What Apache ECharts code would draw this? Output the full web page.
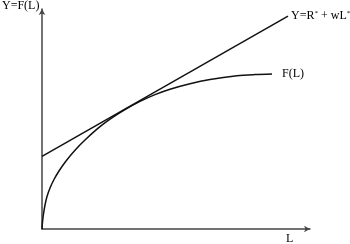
<!DOCTYPE html>
<html>
<head>
<meta charset="utf-8">
<script src="https://cdn.jsdelivr.net/npm/echarts@6/dist/echarts.min.js"></script>
<style>html,body{margin:0;padding:0;background:#fff;}#c{width:350px;height:244px;}</style>
</head>
<body>
<div id="c"></div>
<script>
// Production function F(L): [L, Y]
var curveL = [0, 0.019, 0.056, 0.112, 0.187, 0.299, 0.448, 0.634, 0.896, 1.231, 1.604, 2.164, 2.649, 3.097, 3.657, 4.216, 4.776, 5.522, 6.269, 7.276, 7.948, 8.582];
var curveY = [0, 0.318, 0.682, 1.091, 1.477, 1.864, 2.25, 2.636, 3.091, 3.582, 4.045, 4.65, 5.082, 5.427, 5.8, 6.109, 6.355, 6.605, 6.795, 6.964, 7.018, 7.045];
// Tangent line Y = R* + wL*
var lineL = [0, 9.18];
var lineY = [3.3, 9.68];
var curveLabel = 'F(L)';
var yAxisName = 'Y=F(L)';
var xAxisName = 'L';

var font = '"Liberation Serif", "DejaVu Serif", serif';
var curveData = curveL.map(function (l, i) { return [l, curveY[i]]; });
var lineData = lineL.map(function (l, i) { return [l, lineY[i]]; });

var chart = echarts.init(document.getElementById('c'), null, {renderer: 'canvas'});
chart.setOption({
  animation: false,
  backgroundColor: '#fff',
  grid: {left: 42, right: 40, top: 9, bottom: 15},
  xAxis: {
    type: 'value', min: 0, max: 10,
    axisLine: {show: true, symbol: ['none', 'arrow'], symbolSize: [5, 6], lineStyle: {color: '#444', width: 1.5}},
    axisTick: {show: false}, axisLabel: {show: false}, splitLine: {show: false}
  },
  yAxis: {
    type: 'value', min: 0, max: 10,
    axisLine: {show: true, symbol: ['none', 'arrow'], symbolSize: [5, 6], lineStyle: {color: '#444', width: 1.5}},
    axisTick: {show: false}, axisLabel: {show: false}, splitLine: {show: false}
  },
  series: [
    {
      type: 'line', data: curveData, smooth: 0.3, showSymbol: false, symbol: 'none',
      lineStyle: {color: '#111', width: 1.5},
      endLabel: {show: true, formatter: curveLabel, color: '#000', fontFamily: font, fontSize: 12, distance: 10}
    },
    {
      type: 'line', data: lineData, showSymbol: false, symbol: 'none',
      lineStyle: {color: '#111', width: 1.5},
      endLabel: {
        show: true, distance: 3,
        formatter: '{a|Y=R}{s|*}{a| + wL}{s|*}',
        rich: {
          a: {fontFamily: font, fontSize: 12, color: '#000'},
          s: {fontFamily: font, fontSize: 7, color: '#000', verticalAlign: 'top', padding: [0, 0, 6, 0]}
        }
      }
    }
  ],
  graphic: [
    {type: 'text', left: 2, top: 0, style: {text: yAxisName, font: '12px ' + font, fill: '#000'}},
    {type: 'text', left: 286, top: 233, style: {text: xAxisName, font: '12px ' + font, fill: '#000'}}
  ]
});
</script>
</body>
</html>
